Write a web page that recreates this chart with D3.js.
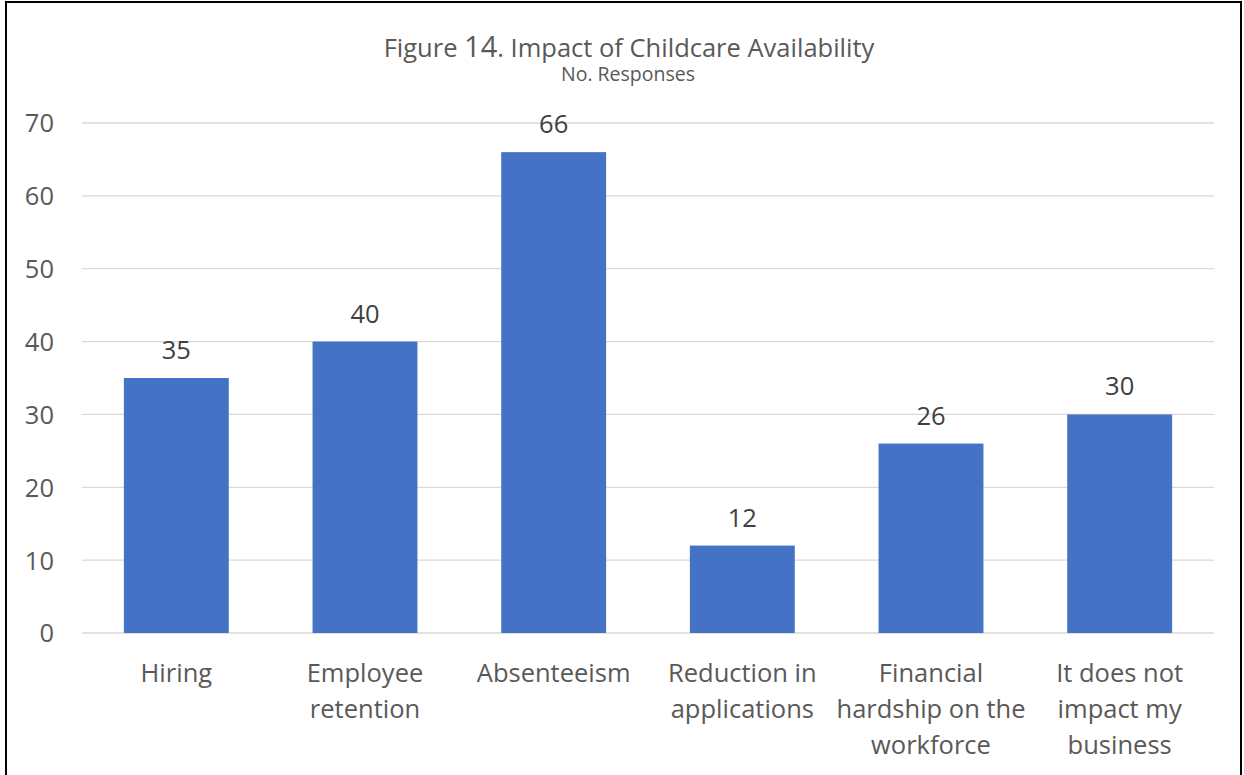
<!DOCTYPE html>
<html><head><meta charset="utf-8">
<script src="https://cdn.jsdelivr.net/npm/d3@7"></script>
<style>html,body{margin:0;padding:0;background:#fff;}</style>
</head><body>
<svg id="chart" width="1244" height="775"></svg>
<script>
const categories = [["Hiring"],["Employee","retention"],["Absenteeism"],["Reduction in","applications"],["Financial","hardship on the","workforce"],["It does not","impact my","business"]];
const values = [35, 40, 66, 12, 26, 30];
const yTicks = [0,10,20,30,40,50,60,70];

const font = "'Open Sans', sans-serif";
const fs = 25.5;
const svg = d3.select("#chart");

svg.append("rect").attr("x",6).attr("y",2).attr("width",1235).attr("height",790)
  .attr("fill","#fff").attr("stroke","#000").attr("stroke-width",2);

const x = d3.scaleBand().domain(d3.range(categories.length))
  .range([82, 1214]).paddingInner(0.444).paddingOuter(0.222);
const y = d3.scaleLinear().domain([0,70]).range([633,123]);

// gridlines
svg.append("g").selectAll("line").data(yTicks).join("line")
  .attr("x1",82).attr("x2",1214)
  .attr("y1",d=>y(d)).attr("y2",d=>y(d))
  .attr("stroke","#d9d9d9").attr("stroke-width",1.3);

// y axis labels
const yAxis = d3.axisLeft(y).tickValues(yTicks).tickSize(0).tickPadding(0);
const ya = svg.append("g").attr("transform","translate(54,0)").call(yAxis);
ya.select(".domain").remove();
ya.selectAll("text").attr("font-family",font).attr("font-size",fs).attr("fill","#595959").attr("dy","0.35em");

// bars
svg.append("g").selectAll("rect").data(values).join("rect")
  .attr("x",(d,i)=>x(i)).attr("width",x.bandwidth())
  .attr("y",d=>y(d)).attr("height",d=>y(0)-y(d))
  .attr("fill","#4472C4");

// data labels
svg.append("g").selectAll("text").data(values).join("text")
  .attr("x",(d,i)=>x(i)+x.bandwidth()/2).attr("y",d=>y(d)-19)
  .attr("text-anchor","middle").attr("font-family",font).attr("font-size",fs)
  .attr("fill","#404040").text(d=>d);

// category labels
const cg = svg.append("g").selectAll("text").data(categories).join("text")
  .attr("x",(d,i)=>x(i)+x.bandwidth()/2).attr("y",682)
  .attr("text-anchor","middle").attr("font-family",font).attr("font-size",fs).attr("fill","#595959");
cg.each(function(d,i){
  const t = d3.select(this);
  d.forEach((line,j)=>{
    t.append("tspan").attr("x",x(i)+x.bandwidth()/2).attr("y",682+j*36).text(line);
  });
});

// title
const title = svg.append("text").attr("x",629).attr("y",57).attr("text-anchor","middle")
  .attr("font-family",font).attr("font-size",25.5).attr("fill","#595959");
title.append("tspan").text("Figure ");
title.append("tspan").attr("font-size",29).text("14");
title.append("tspan").text(". Impact of Childcare Availability");
svg.append("text").attr("x",628).attr("y",81).attr("text-anchor","middle")
  .attr("font-family",font).attr("font-size",19.5).attr("fill","#595959").text("No. Responses");
</script>
</body></html>
